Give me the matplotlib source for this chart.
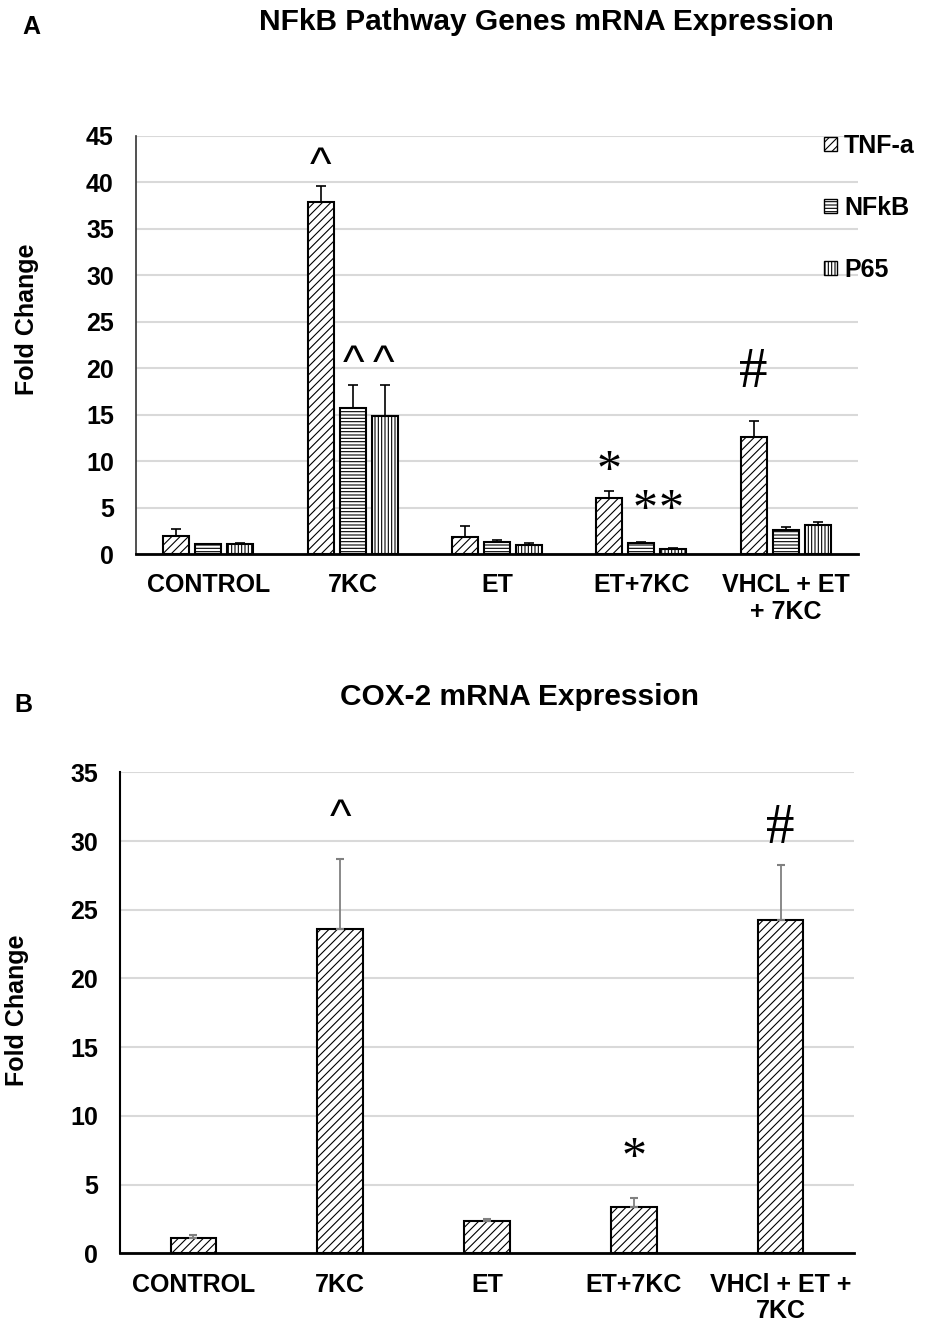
import matplotlib
matplotlib.use("Agg")
import matplotlib.pyplot as plt
from matplotlib.patches import Patch
import numpy as np

plt.rcParams['font.family'] = ['Liberation Sans', 'DejaVu Sans']
plt.rcParams['hatch.linewidth'] = 0.8

# ---------------- data ----------------
groups_a = ["CONTROL", "7KC", "ET", "ET+7KC", "VHCL + ET\n+ 7KC"]
series_a = ["TNF-a", "NFkB", "P65"]
tnf = [1.9, 37.9, 1.85, 6.0, 12.6]
tnf_err = [0.8, 1.7, 1.15, 0.8, 1.7]
nfkb = [1.05, 15.75, 1.25, 1.2, 2.55]
nfkb_err = [0.05, 2.45, 0.3, 0.12, 0.35]
p65 = [1.12, 14.85, 0.95, 0.5, 3.08]
p65_err = [0.05, 3.35, 0.18, 0.1, 0.32]
hatches_a = ["////", "-----", "|||||"]

groups_b = ["CONTROL", "7KC", "ET", "ET+7KC", "VHCl + ET +\n7KC"]
cox2 = [1.13, 23.6, 2.37, 3.39, 24.28]
cox2_err = [0.2, 5.1, 0.1, 0.6, 3.95]

# annotations: (group index, x shift, y, text)
annot_a = [(1, -0.222, 41.6, "^"), (1, 0.005, 20.3, "^"), (1, 0.215, 20.3, "^"),
           (3, -0.222, 8.8, "*"), (3, 0.025, 4.6, "*"), (3, 0.205, 4.6, "*"),
           (4, -0.222, 19.5, "#")]
annot_b = [(1, 31.6, "^"), (4, 30.9, "#"), (3, 6.9, "*")]

W, H = 931, 1323
fig = plt.figure(figsize=(W / 100, H / 100), dpi=100)

def fx(px):
    return px / W

def fy(py):
    return 1 - py / H

FS = 18

def annot(ax, xv, yv, t):
    if t == "^":
        ax.text(xv, yv, t, ha="center", va="center", fontsize=33,
                family="Liberation Sans", zorder=5)
    elif t == "#":
        ax.text(xv, yv, t, ha="center", va="center", fontsize=41,
                family="Liberation Serif", zorder=5)
    else:
        ax.text(xv, yv, t, ha="center", va="center", fontsize=36,
                family="Liberation Serif", zorder=5)

# ---------------- panel A ----------------
axA = fig.add_axes([fx(136), fy(554), fx(858) - fx(136), fy(135.7) - fy(554)])
x = np.arange(len(groups_a))
offs = [-0.222, 0.0, 0.222]
bw = 0.18
vals = [tnf, nfkb, p65]
errs = [tnf_err, nfkb_err, p65_err]
handles = []
for k in range(3):
    axA.bar(x + offs[k], vals[k], width=bw, color="white", edgecolor="black",
            linewidth=1.5, hatch=hatches_a[k], zorder=3)
    axA.errorbar(x + offs[k], vals[k],
                 yerr=[np.zeros(len(x)), errs[k]], fmt="none",
                 ecolor="black", elinewidth=1.2, capsize=3.5, capthick=1.2, zorder=4)
    handles.append(Patch(facecolor="white", edgecolor="black", hatch=hatches_a[k],
                         linewidth=1.0, label=series_a[k]))

axA.set_xlim(-0.5, 4.5)
axA.set_ylim(0, 45)
axA.set_yticks(np.arange(0, 46, 5))
axA.set_xticks(x)
axA.set_xticklabels(groups_a, fontsize=FS, fontweight="bold", linespacing=1.15)
axA.tick_params(axis="both", length=0, labelsize=FS)
axA.tick_params(axis="x", pad=14)
axA.tick_params(axis="y", pad=16)
for lab in axA.get_yticklabels():
    lab.set_fontweight("bold")
axA.grid(axis="y", color="#d9d9d9", linewidth=1.5, zorder=0)
axA.set_axisbelow(True)
for s in ["top", "right"]:
    axA.spines[s].set_visible(False)
axA.spines["left"].set_color("#333333")
axA.spines["left"].set_linewidth(1.2)
axA.spines["bottom"].set_linewidth(2.0)

for gi, dx, yv, t in annot_a:
    annot(axA, gi + dx, yv, t)

leg = fig.legend(handles=handles, loc="upper left",
                 bbox_to_anchor=(fx(824), fy(134)), frameon=False,
                 prop={"size": FS, "weight": "bold"}, handlelength=0.5,
                 handleheight=0.5, handletextpad=0.3, labelspacing=1.52,
                 borderpad=0, borderaxespad=0)

fig.text(fx(546), fy(22), "NFkB Pathway Genes mRNA Expression", ha="center",
         va="center", fontsize=21.5, fontweight="bold")
fig.text(fx(31), fy(27), "A", ha="center", va="center", fontsize=18, fontweight="bold")
fig.text(fx(27), fy(319), "Fold Change", ha="center", va="center", rotation=90,
         fontsize=FS, fontweight="bold")

# ---------------- panel B ----------------
axB = fig.add_axes([fx(120), fy(1253.3), fx(854) - fx(120), fy(772.3) - fy(1253.3)])
xb = np.arange(len(groups_b))
axB.bar(xb, cox2, width=0.31, color="white", edgecolor="black", linewidth=1.5,
        hatch="////", zorder=3)
axB.errorbar(xb, cox2, yerr=[np.zeros(len(xb)), cox2_err], fmt="none",
             ecolor="#808080", elinewidth=1.3, capsize=3, capthick=1.5, zorder=4)
axB.set_xlim(-0.5, 4.5)
axB.set_ylim(0, 35)
axB.set_yticks(np.arange(0, 36, 5))
axB.set_xticks(xb)
axB.set_xticklabels(groups_b, fontsize=FS, fontweight="bold", linespacing=1.1)
axB.tick_params(axis="both", length=0, labelsize=FS)
axB.tick_params(axis="x", pad=14)
axB.tick_params(axis="y", pad=16)
for lab in axB.get_yticklabels():
    lab.set_fontweight("bold")
axB.grid(axis="y", color="#d9d9d9", linewidth=1.5, zorder=0)
axB.set_axisbelow(True)
for s in ["top", "right"]:
    axB.spines[s].set_visible(False)
axB.spines["left"].set_linewidth(1.5)
axB.spines["bottom"].set_linewidth(2.0)

for gi, yv, t in annot_b:
    annot(axB, gi, yv, t)

fig.text(fx(519), fy(697), "COX-2 mRNA Expression", ha="center", va="center",
         fontsize=21.5, fontweight="bold")
fig.text(fx(23), fy(705), "B", ha="center", va="center", fontsize=18, fontweight="bold")
fig.text(fx(17), fy(1010), "Fold Change", ha="center", va="center", rotation=90,
         fontsize=FS, fontweight="bold")

fig.savefig("out.png", dpi=100)
